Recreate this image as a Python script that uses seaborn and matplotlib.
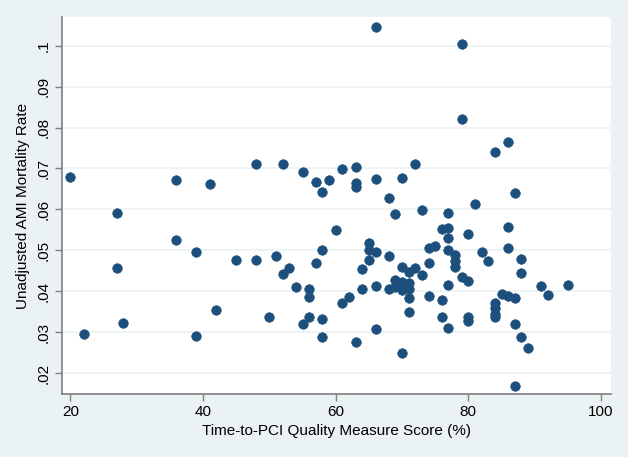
import matplotlib
matplotlib.use("Agg")
import matplotlib.pyplot as plt
import seaborn as sns
import pandas as pd

# ---- data ----
score = [66, 79, 79, 86, 84, 20, 36, 41, 48, 52, 55, 57, 59, 58, 61, 63, 63, 63, 66, 70,
         72, 68, 69, 73, 77, 81, 87, 27, 36, 39, 27, 22, 28, 39, 42, 45, 48, 51, 52, 53,
         54, 50, 55, 56, 56, 56, 58, 57, 58, 58, 60, 61, 62, 63, 64, 64, 65, 65, 66, 65,
         66, 66, 68, 68, 69, 69, 70, 70, 71, 70, 71, 70, 71, 72, 73, 71, 71, 70, 74, 74,
         75, 74, 76, 77, 77, 77, 78, 78, 78, 77, 76, 76, 77, 79, 80, 80, 80, 80, 82, 83,
         84, 84, 84, 84, 85, 86, 87, 86, 86, 88, 88, 87, 88, 89, 87, 91, 92, 95]
mortality = [0.1046, 0.1004, 0.0822, 0.0764, 0.0741, 0.0680, 0.0671, 0.0662, 0.0711, 0.0711,
             0.0692, 0.0668, 0.0672, 0.0642, 0.0699, 0.0704, 0.0665, 0.0655, 0.0675, 0.0676,
             0.0711, 0.0627, 0.0588, 0.0598, 0.0592, 0.0613, 0.0641, 0.0590, 0.0526, 0.0496,
             0.0456, 0.0295, 0.0321, 0.0291, 0.0354, 0.0476, 0.0476, 0.0487, 0.0443, 0.0457,
             0.0409, 0.0337, 0.0320, 0.0406, 0.0385, 0.0336, 0.0500, 0.0468, 0.0331, 0.0289,
             0.0549, 0.0370, 0.0385, 0.0275, 0.0453, 0.0405, 0.0517, 0.0500, 0.0496, 0.0476,
             0.0413, 0.0307, 0.0487, 0.0405, 0.0427, 0.0411, 0.0423, 0.0403, 0.0419, 0.0410,
             0.0405, 0.0458, 0.0448, 0.0456, 0.0440, 0.0384, 0.0348, 0.0249, 0.0468, 0.0506,
             0.0511, 0.0389, 0.0552, 0.0554, 0.0529, 0.0500, 0.0488, 0.0474, 0.0460, 0.0415,
             0.0378, 0.0336, 0.0309, 0.0434, 0.0425, 0.0540, 0.0338, 0.0328, 0.0495, 0.0474,
             0.0372, 0.0358, 0.0344, 0.0336, 0.0393, 0.0387, 0.0383, 0.0556, 0.0505, 0.0478,
             0.0445, 0.0320, 0.0287, 0.0260, 0.0169, 0.0413, 0.0391, 0.0414]
x_ticks = [20, 40, 60, 80, 100]
y_ticks = [0.02, 0.03, 0.04, 0.05, 0.06, 0.07, 0.08, 0.09, 0.10]
y_tick_labels = [".02", ".03", ".04", ".05", ".06", ".07", ".08", ".09", ".1"]
x_label = "Time-to-PCI Quality Measure Score (%)"
y_label = "Unadjusted AMI Mortality Rate"

df = pd.DataFrame({"score": score, "mortality": mortality})

sns.set_theme(style="white")
plt.rcParams["font.family"] = ["Liberation Sans", "DejaVu Sans"]

bg = "#eaf2f3"
fig = plt.figure(figsize=(6.28, 4.57), dpi=100, facecolor=bg)
ax = fig.add_axes([0.0982, 0.1372, 0.9725 - 0.0982, 0.9635 - 0.1372])
ax.set_facecolor("white")

sns.scatterplot(data=df, x="score", y="mortality", ax=ax, s=48,
                color="#1c4f7c", edgecolor="#1c4f7c", linewidth=0.4, zorder=3)

ax.set_xlim(18.69, 101.46)
ax.set_ylim(0.01479, 0.1071)
ax.set_xticks(x_ticks)
ax.set_xticklabels([str(t) for t in x_ticks])
ax.set_yticks(y_ticks)
ax.set_yticklabels(y_tick_labels, rotation=90, va="center")

for yv in y_ticks:
    ax.axhline(yv, color=bg, lw=1.2, zorder=1)

for s in ["top", "right"]:
    ax.spines[s].set_visible(False)
for s in ["left", "bottom"]:
    ax.spines[s].set_color("#7f7f7f")
    ax.spines[s].set_linewidth(1.2)

ax.tick_params(axis="both", which="major", direction="out", length=5, width=1,
               color="#7f7f7f", labelsize=11, labelcolor="black", pad=3,
               bottom=True, left=True)
ax.set_xlabel(x_label, fontsize=11, color="black", labelpad=3)
ax.set_ylabel(y_label, fontsize=11, color="black", labelpad=5)

fig.savefig("out.png", dpi=100, facecolor=bg)
